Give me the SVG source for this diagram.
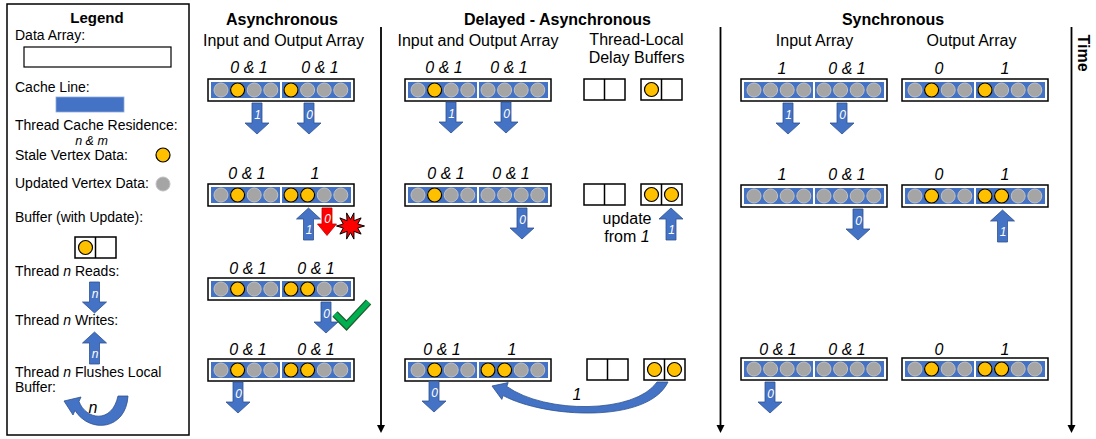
<svg xmlns="http://www.w3.org/2000/svg" width="1096" height="439" viewBox="0 0 1096 439">
<style>
text{font-family:"Liberation Sans",Arial,sans-serif;fill:#000}
.lg{font-size:14px}
.hd{font-size:16px;font-weight:bold;text-anchor:middle}
.sub{font-size:16px;text-anchor:middle}
.ix{font-size:16px;font-style:italic;text-anchor:middle}
.it{font-style:italic}
.at{font-size:12px;font-style:italic;fill:#fff;text-anchor:middle}
.blue{fill:#4472c4}
.arr{fill:#4472c4;stroke:#2f528f;stroke-width:0.8}
.red{fill:#ff0000;stroke:#c00000;stroke-width:0.8}
.gy{fill:#a5a5a5;stroke:#c0c0c0;stroke-width:1}
.yl{fill:#ffc000;stroke:#000;stroke-width:1.2}
.box{fill:#fff;stroke:#000;stroke-width:1.5}
.tl{stroke:#000;stroke-width:1.8;fill:none}
</style>
<defs>
<g id="arrbase">
<rect class="box" x="0" y="0" width="146" height="22"/>
<rect class="blue" x="3" y="3" width="69" height="16"/>
<rect class="blue" x="74" y="3" width="69" height="16"/>
<circle class="gy" cx="13" cy="11" r="7"/>
<circle class="gy" cx="29.6" cy="11" r="7"/>
<circle class="gy" cx="46.2" cy="11" r="7"/>
<circle class="gy" cx="62.8" cy="11" r="7"/>
<circle class="gy" cx="83" cy="11" r="7"/>
<circle class="gy" cx="99.6" cy="11" r="7"/>
<circle class="gy" cx="116.2" cy="11" r="7"/>
<circle class="gy" cx="132.8" cy="11" r="7"/>
</g>
<g id="buf"><rect class="box" x="0" y="0" width="41" height="21"/><line x1="20.5" y1="0" x2="20.5" y2="21" stroke="#000" stroke-width="1.5"/></g>
<path id="dn" d="M-5,0H5V20H12L0,31L-12,20H-5Z"/>
<path id="up" d="M0,0L12,11H5V32H-5V11H-12Z"/>
</defs>

<g id="legend">
<rect x="7" y="4" width="182" height="431" fill="#fff" stroke="#000" stroke-width="1.5"/>
<text x="97" y="23" font-size="15" font-weight="bold" text-anchor="middle">Legend</text>
<text class="lg" x="15" y="40">Data Array:</text>
<rect x="24" y="47" width="147" height="20" fill="#fff" stroke="#000" stroke-width="1.2"/>
<text class="lg" x="15" y="92">Cache Line:</text>
<rect class="blue" x="56" y="97" width="68" height="15" stroke="#8faadc" stroke-width="0.8"/>
<text class="lg" x="15" y="130">Thread Cache Residence:</text>
<text class="it" x="91.5" y="144.5" font-size="12.5" text-anchor="middle">n &amp; m</text>
<text class="lg" x="15" y="160">Stale Vertex Data:</text>
<circle class="yl" cx="163" cy="155" r="7"/>
<text class="lg" x="15" y="188">Updated Vertex Data:</text>
<circle class="gy" cx="163" cy="184" r="7"/>
<text class="lg" x="15" y="222">Buffer (with Update):</text>
<use href="#buf" x="75" y="237"/>
<circle class="yl" cx="85.5" cy="247.5" r="7"/>
<text class="lg" x="15" y="276">Thread <tspan class="it">n</tspan> Reads:</text>
<use href="#dn" class="arr" x="94.5" y="282"/>
<text class="at" x="95" y="298">n</text>
<text class="lg" x="15" y="325">Thread <tspan class="it">n</tspan> Writes:</text>
<use href="#up" class="arr" x="94.5" y="332"/>
<text class="at" x="95" y="358">n</text>
<text class="lg" x="15" y="377">Thread <tspan class="it">n</tspan> Flushes Local</text>
<text class="lg" x="15" y="392">Buffer:</text>
<path class="arr" d="M64,401L81,397L79,401.5C86,420 112,424 118,396L128,396C126,430 90,434 75,410.5L73,415Z"/>
<text class="it" x="93" y="413" font-size="16" text-anchor="middle">n</text>
</g>

<g id="headings">
<text class="hd" x="282" y="25">Asynchronous</text>
<text class="sub" x="283.5" y="46">Input and Output Array</text>
<text class="hd" x="557.5" y="25">Delayed - Asynchronous</text>
<text class="sub" x="478" y="46">Input and Output Array</text>
<text class="sub" x="636.5" y="45">Thread-Local</text>
<text class="sub" x="636.5" y="63">Delay Buffers</text>
<text class="hd" x="893" y="25">Synchronous</text>
<text class="sub" x="814.5" y="46">Input Array</text>
<text class="sub" x="971.5" y="46">Output Array</text>
<text class="hd" x="1078" y="53" transform="rotate(90 1078 53)">Time</text>
</g>

<!-- Asynchronous -->
<g id="async-r1">
<g transform="translate(208,79)"><use href="#arrbase"/><circle class="yl" cx="29.6" cy="11" r="7"/><circle class="yl" cx="83" cy="11" r="7"/></g>
<text class="ix" x="249" y="73">0 &amp; 1</text><text class="ix" x="320" y="73">0 &amp; 1</text>
</g>
<g id="async-r2">
<g transform="translate(208,184)"><use href="#arrbase"/><circle class="yl" cx="29.6" cy="11" r="7"/><circle class="yl" cx="83" cy="11" r="7"/><circle class="yl" cx="99.6" cy="11" r="7"/></g>
<text class="ix" x="247" y="179">0 &amp; 1</text><text class="ix" x="315" y="179">1</text>
</g>
<g id="async-r3">
<g transform="translate(208,278)"><use href="#arrbase"/><circle class="yl" cx="29.6" cy="11" r="7"/><circle class="yl" cx="83" cy="11" r="7"/><circle class="yl" cx="99.6" cy="11" r="7"/></g>
<text class="ix" x="248" y="274">0 &amp; 1</text><text class="ix" x="316" y="274">0 &amp; 1</text>
</g>
<g id="async-r4">
<g transform="translate(208,359)"><use href="#arrbase"/><circle class="yl" cx="29.6" cy="11" r="7"/><circle class="yl" cx="83" cy="11" r="7"/><circle class="yl" cx="99.6" cy="11" r="7"/></g>
<text class="ix" x="248" y="355">0 &amp; 1</text><text class="ix" x="316" y="355">0 &amp; 1</text>
</g>
<g id="conflict">
<polygon points="364.5,226 357.7,228 361.1,234.1 354,231.3 353.9,239.1 350.5,232.6 346.6,239.1 347,231.3 339.9,234.1 343.3,228 336.5,226 343.3,224 339.9,217.9 347,220.7 346.6,212.9 350.5,219.4 353.9,212.9 354,220.7 361.1,217.9 357.7,224" fill="#ff0000" stroke="#000" stroke-width="1"/>
</g>
<g id="success">
<polyline points="335,314 346.5,325.5 368.5,302" fill="none" stroke="#1f5e2e" stroke-width="7.5"/>
<polyline points="335,314 346.5,325.5 368.5,302" fill="none" stroke="#00b050" stroke-width="5"/>
</g>

<!-- Delayed -->
<g id="delayed-r1">
<g transform="translate(405,79)"><use href="#arrbase"/><circle class="yl" cx="29.6" cy="11" r="7"/></g>
<text class="ix" x="444" y="73">0 &amp; 1</text><text class="ix" x="509" y="73">0 &amp; 1</text>
</g>
<g id="buffers-r1">
<use href="#buf" x="584" y="79"/><use href="#buf" x="641" y="79"/>
<circle class="yl" cx="651.5" cy="89.5" r="7"/>
</g>
<g id="delayed-r2">
<g transform="translate(405,184)"><use href="#arrbase"/><circle class="yl" cx="29.6" cy="11" r="7"/></g>
<text class="ix" x="446" y="179">0 &amp; 1</text><text class="ix" x="511" y="179">0 &amp; 1</text>
</g>
<g id="buffers-r2">
<use href="#buf" x="584" y="184"/><use href="#buf" x="641" y="184"/>
<circle class="yl" cx="651.5" cy="194.5" r="7"/><circle class="yl" cx="671.5" cy="194.5" r="7"/>
<text x="627" y="224" font-size="16" text-anchor="middle">update</text>
<text x="627" y="242" font-size="16" text-anchor="middle">from <tspan class="it">1</tspan></text>
</g>
<g id="delayed-r4">
<g transform="translate(405,359)"><use href="#arrbase"/><circle class="yl" cx="29.6" cy="11" r="7"/><circle class="yl" cx="83" cy="11" r="7"/><circle class="yl" cx="99.6" cy="11" r="7"/></g>
<text class="ix" x="442" y="355">0 &amp; 1</text><text class="ix" x="512" y="355">1</text>
</g>
<g id="buffers-r4">
<use href="#buf" x="587" y="359"/><use href="#buf" x="644" y="359"/>
<circle class="yl" cx="654.5" cy="369.5" r="7"/><circle class="yl" cx="674.5" cy="369.5" r="7"/>
</g>

<!-- Synchronous -->
<g id="sync-in-r1">
<g transform="translate(741,79)"><use href="#arrbase"/></g>
<text class="ix" x="782" y="74">1</text><text class="ix" x="847" y="74">0 &amp; 1</text>
</g>
<g id="sync-out-r1">
<g transform="translate(902,79)"><use href="#arrbase"/><circle class="yl" cx="29.6" cy="11" r="7"/><circle class="yl" cx="83" cy="11" r="7"/></g>
<text class="ix" x="939" y="74">0</text><text class="ix" x="1005" y="74">1</text>
</g>
<g id="sync-in-r2">
<g transform="translate(741,185)"><use href="#arrbase"/></g>
<text class="ix" x="782" y="180">1</text><text class="ix" x="847" y="180">0 &amp; 1</text>
</g>
<g id="sync-out-r2">
<g transform="translate(902,185)"><use href="#arrbase"/><circle class="yl" cx="29.6" cy="11" r="7"/><circle class="yl" cx="83" cy="11" r="7"/><circle class="yl" cx="99.6" cy="11" r="7"/></g>
<text class="ix" x="939" y="180">0</text><text class="ix" x="1005" y="180">1</text>
</g>
<g id="sync-in-r4">
<g transform="translate(741,358)"><use href="#arrbase"/></g>
<text class="ix" x="778" y="355">0 &amp; 1</text><text class="ix" x="847" y="355">0 &amp; 1</text>
</g>
<g id="sync-out-r4">
<g transform="translate(902,358)"><use href="#arrbase"/><circle class="yl" cx="29.6" cy="11" r="7"/><circle class="yl" cx="83" cy="11" r="7"/><circle class="yl" cx="99.6" cy="11" r="7"/></g>
<text class="ix" x="939" y="355">0</text><text class="ix" x="1005" y="355">1</text>
</g>

<g id="connectors">
<path class="tl" d="M381,27V426"/><polygon points="377,425 385,425 381,433"/>
<path class="tl" d="M720.5,27V426"/><polygon points="716.5,425 724.5,425 720.5,433"/>
<path class="tl" d="M1071.5,27V426"/><polygon points="1067.5,425 1075.5,425 1071.5,433"/>

<use href="#dn" class="arr" x="257" y="103"/><text class="at" x="257.5" y="119">1</text>
<use href="#dn" class="arr" x="309" y="103"/><text class="at" x="309.5" y="119">0</text>
<use href="#up" class="arr" x="308.5" y="208"/><text class="at" x="309" y="234">1</text>
<path class="red" d="M322,208H332V224H336.5L327,235.5L317.5,224H322Z"/><text class="at" x="327.5" y="223">0</text>
<use href="#dn" class="arr" x="326" y="302"/><text class="at" x="326.5" y="318">0</text>
<use href="#dn" class="arr" x="238" y="382"/><text class="at" x="238.5" y="398">0</text>

<use href="#dn" class="arr" x="451" y="102"/><text class="at" x="451.5" y="118">1</text>
<use href="#dn" class="arr" x="506" y="102"/><text class="at" x="506.5" y="118">0</text>
<use href="#dn" class="arr" x="522" y="208"/><text class="at" x="522.5" y="224">0</text>
<use href="#up" class="arr" x="671" y="208"/><text class="at" x="671.5" y="234">1</text>
<use href="#dn" class="arr" x="434" y="381"/><text class="at" x="434.5" y="397">0</text>
<path class="arr" d="M492,386L508.2,382.6L506.8,386.4C545,414 635,414 657,382L668,382C648,424 545,418 503.2,395.6L501.8,399.4Z"/>
<text class="ix" x="577" y="400">1</text>

<use href="#dn" class="arr" x="788" y="103"/><text class="at" x="788.5" y="119">1</text>
<use href="#dn" class="arr" x="842" y="103"/><text class="at" x="842.5" y="119">0</text>
<use href="#dn" class="arr" x="858" y="209"/><text class="at" x="858.5" y="225">0</text>
<use href="#up" class="arr" x="1002.5" y="210"/><text class="at" x="1003" y="236">1</text>
<use href="#dn" class="arr" x="770" y="382"/><text class="at" x="770.5" y="398">0</text>
</g>
</svg>
